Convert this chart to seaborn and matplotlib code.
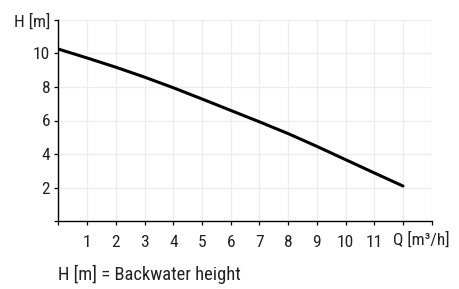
import matplotlib
matplotlib.use("Agg")
import matplotlib.pyplot as plt
from matplotlib import font_manager as fm
import seaborn as sns
import pandas as pd

# Data
flow_q = [0, 1, 2, 3, 4, 5, 6, 7, 8, 9, 10, 11, 12]
head_h = [10.25, 9.72, 9.17, 8.58, 7.95, 7.28, 6.60, 5.92, 5.22, 4.46, 3.67, 2.88, 2.10]
x_tick_labels = ["", "1", "2", "3", "4", "5", "6", "7", "8", "9", "10", "11", "", ""]
y_tick_labels = ["", "2", "4", "6", "8", "10", "H [m]"]
x_unit_label = "Q [m³/h]"
footer = "H [m] = Backwater height"

sns.set_theme(style="white")

# pick a condensed font if one is installed
chosen = None
prefs = ["roboto condensed", "liberation sans narrow", "open sans condensed",
         "noto sans condensed", "dejavu sans condensed"]
entries = fm.fontManager.ttflist
cands = []
for e in entries:
    fn = e.fname.lower().replace("-", " ").replace("_", " ")
    nm = e.name.lower()
    if e.weight not in (400, "normal", "regular") or e.style != "normal":
        continue
    if "condensed" in fn or "narrow" in fn or "condensed" in nm or "narrow" in nm \
            or str(e.stretch) in ("condensed", "semi-condensed", "extra-condensed"):
        cands.append(e)
for p in prefs:
    for e in cands:
        fn = e.fname.lower().replace("-", " ").replace("_", " ")
        if p.replace(" ", "") in fn.replace(" ", "") or p in e.name.lower():
            chosen = e
            break
    if chosen:
        break
if chosen is None and cands:
    chosen = cands[0]

if chosen is not None:
    plt.rcParams['font.family'] = [chosen.name, 'DejaVu Sans']
    plt.rcParams['font.stretch'] = chosen.stretch
else:
    plt.rcParams['font.family'] = ['DejaVu Sans']
    plt.rcParams['font.stretch'] = 'condensed'

df = pd.DataFrame({"Q": flow_q, "H": head_h})

fig = plt.figure(figsize=(4.6, 2.89), dpi=100)
ax = fig.add_axes([58.5 / 460, 1 - 221.3 / 289, (431.7 - 58.5) / 460, (221.3 - 19.7) / 289])

sns.lineplot(data=df, x="Q", y="H", ax=ax, color="black", linewidth=2.2)

ax.set_xlim(0, 13)
ax.set_ylim(0, 12)
ax.set_xticks(range(0, 14))
ax.set_xticklabels(x_tick_labels)
ax.set_yticks(range(0, 13, 2))
ax.set_yticklabels(y_tick_labels)
ax.set_xlabel("")
ax.set_ylabel("")

ax.grid(True, color="#ececec", linewidth=0.9)
ax.set_axisbelow(True)
for side in ["top", "right"]:
    ax.spines[side].set_visible(False)
for side in ["left", "bottom"]:
    ax.spines[side].set_color("black")
    ax.spines[side].set_linewidth(1.0)

ax.tick_params(axis="both", which="both", direction="out", length=3, width=0.9,
               color="black", labelsize=12.5, labelcolor="#222222", pad=3,
               left=True, bottom=True)
ax.tick_params(axis="x", pad=7)

ax.text(12 - 0.35, -0.62, x_unit_label, transform=ax.transData, ha="left", va="top",
        fontsize=12.5, color="#222222")

fig.text(58.5 / 460, 1 - 274.5 / 289, footer, ha="left", va="center",
         fontsize=13.3, color="#222222")

fig.savefig("out.png", dpi=100, facecolor="white")
